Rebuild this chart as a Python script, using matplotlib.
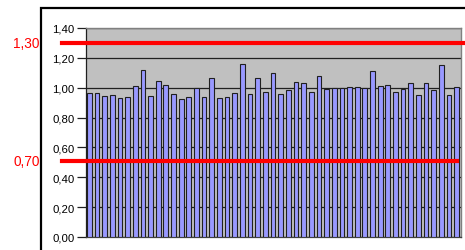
import numpy as np
import matplotlib
matplotlib.use("Agg")
from matplotlib import pyplot as plt
from matplotlib.patches import Rectangle

# values, one per bar
values = [
    0.967, 0.967, 0.946, 0.953, 0.933, 0.940, 1.011, 1.120, 0.946, 1.047,
    1.018, 0.960, 0.924, 0.938, 0.996, 0.938, 1.067, 0.931, 0.938, 0.967,
    1.161, 0.960, 1.067, 0.973, 1.096, 0.960, 0.982, 1.040, 1.031, 0.973,
    1.076, 0.993, 1.000, 1.000, 1.005, 1.005, 1.000, 1.114, 1.011, 1.020,
    0.973, 0.993, 1.034, 0.953, 1.034, 0.985, 1.150, 0.953, 1.005,
]
y_ticks = [0.0, 0.2, 0.4, 0.6, 0.8, 1.0, 1.2, 1.4]
y_tick_labels = ["0,00", "0,20", "0,40", "0,60", "0,80", "1,00", "1,20", "1,40"]

# limit lines: (position on the value axis, label text)
upper_limit = 1.30
upper_label = "1,30"
lower_limit = 0.51
lower_label = "0,70"

plt.rcParams["font.family"] = ["Liberation Sans", "DejaVu Sans"]

W, H = 465, 251
fig = plt.figure(figsize=(W / 100, H / 100), dpi=100)
fig.patch.set_facecolor("white")

# outer chart frame (cut off at right and bottom)
fig.add_artist(Rectangle((41 / W, -0.1), 1.2, 1 - 9 / H + 0.1,
                         transform=fig.transFigure, fill=False,
                         edgecolor="black", linewidth=1.6))

ax = fig.add_axes([85.5 / W, 13 / H, 375 / W, 209 / H])
ax.set_facecolor("#c0c0c0")

x = np.arange(len(values))
ax.bar(x, values, width=0.62, color="#9999ff", edgecolor="#202020",
       linewidth=0.8, zorder=3)

ax.set_xlim(-0.5, len(values) - 0.5)
ax.set_ylim(0, 1.4)
ax.set_yticks(y_ticks)
ax.set_yticklabels(y_tick_labels, fontsize=8.2)
ax.set_xticks([])
ax.grid(axis="y", color="#202020", linewidth=0.9, zorder=1)
ax.tick_params(axis="y", length=6.5, width=0.9, pad=1.5, color="#202020")

for side in ["top", "right"]:
    ax.spines[side].set_color("#808080")
    ax.spines[side].set_linewidth(1.0)
ax.spines["left"].set_color("#202020")
ax.spines["left"].set_linewidth(0.9)
ax.spines["bottom"].set_color("#404040")
ax.spines["bottom"].set_linewidth(0.9)

# red limit lines, extending past the plot area
ax.axhline(upper_limit, xmin=-0.063, xmax=1.02, color="red",
           linewidth=3.0, clip_on=False, zorder=5)
ax.axhline(lower_limit, xmin=-0.063, xmax=0.991, color="red",
           linewidth=3.0, clip_on=False, zorder=5)

label_x = -(85.5 - 26.5) / 375
ax.text(label_x, upper_limit, upper_label, transform=ax.get_yaxis_transform(),
        color="red", fontsize=9.8, ha="center", va="center")
ax.text(label_x, lower_limit, lower_label, transform=ax.get_yaxis_transform(),
        color="red", fontsize=9.8, ha="center", va="center")

fig.savefig("out.png", dpi=100)
